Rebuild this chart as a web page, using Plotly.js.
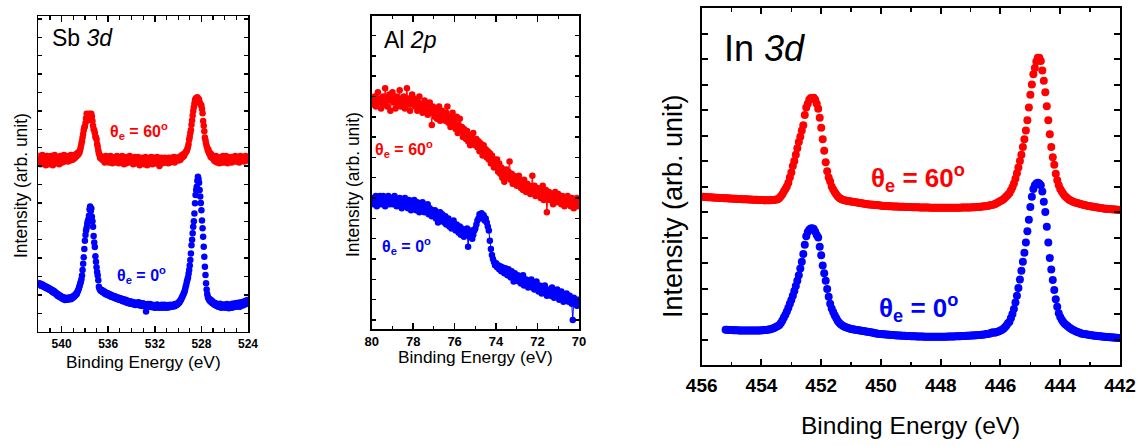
<!DOCTYPE html>
<html><head><meta charset="utf-8">
<script src="https://cdn.plot.ly/plotly-3.0.1.min.js"></script>
<style>html,body{margin:0;padding:0;background:#fff}#chart{width:1143px;height:445px}</style>
</head><body><div id="chart"></div>
<script>
// ---------- Sb 3d (binding energy grid 542.00 -> 524.00, step 0.05 eV) ----------
const sbStart = 542.0, sbStep = 0.05;
const sbTheta0 = [
2.65,2.58,2.62,2.55,2.60,2.50,2.57,2.48,2.55,2.45,
2.50,2.42,2.47,2.38,2.44,2.35,2.40,2.32,2.37,2.28,
2.33,2.25,2.30,2.20,2.26,2.15,2.22,2.12,2.18,2.08,
2.12,2.02,2.08,1.96,2.03,1.92,1.98,1.88,1.95,1.85,
1.90,1.80,1.88,1.76,1.85,1.78,1.72,1.84,1.76,1.80,
1.74,1.83,1.77,1.86,1.79,1.84,1.76,1.88,1.82,1.90,
1.86,1.95,1.92,2.00,1.98,2.08,2.05,2.15,2.22,2.30,
2.40,2.50,2.62,2.72,2.85,3.05,3.35,3.70,4.05,4.50,
4.95,5.25,5.50,5.65,5.85,6.00,6.10,6.30,6.65,6.80,
6.55,6.70,6.25,6.00,5.70,5.20,4.85,4.60,4.10,3.80,
3.50,3.25,3.05,2.80,2.45,2.35,2.30,2.22,2.28,2.18,
2.25,2.15,2.20,2.10,2.17,2.05,2.12,2.02,2.10,2.00,
2.07,1.97,2.04,1.94,2.02,1.90,1.98,1.88,1.96,1.86,
1.93,1.84,1.92,1.80,1.88,1.78,1.86,1.76,1.84,1.74,
1.82,1.72,1.80,1.70,1.78,1.66,1.76,1.68,1.64,1.74,
1.62,1.72,1.58,1.68,1.60,1.55,1.66,1.58,1.52,1.64,
1.56,1.62,1.50,1.60,1.48,1.57,1.53,1.45,1.58,1.50,
1.55,1.46,1.60,1.48,1.42,1.56,1.45,1.52,1.40,1.55,
1.45,1.52,1.40,1.48,1.38,1.10,1.46,1.40,1.50,1.36,
1.44,1.35,1.50,1.40,1.34,1.46,1.38,1.43,1.32,1.45,
1.38,1.30,1.44,1.36,1.48,1.33,1.40,1.30,1.44,1.35,
1.42,1.32,1.46,1.36,1.30,1.43,1.35,1.47,1.33,1.40,
1.30,1.42,1.36,1.45,1.32,1.40,1.35,1.46,1.38,1.42,
1.36,1.45,1.40,1.48,1.38,1.50,1.42,1.46,1.52,1.48,
1.55,1.60,1.58,1.65,1.70,1.75,1.82,1.88,1.95,2.02,
2.10,2.17,2.30,2.45,2.55,2.72,2.82,2.95,3.15,3.35,
3.60,3.90,4.25,4.70,5.00,5.35,5.70,6.00,6.43,6.98,
7.43,7.70,7.88,8.20,8.42,8.30,8.10,7.70,7.35,7.00,
6.60,6.05,5.62,5.16,4.62,4.08,3.53,3.08,2.63,2.30,
2.05,1.90,1.82,1.74,1.78,1.66,1.72,1.60,1.68,1.55,
1.62,1.50,1.58,1.45,1.55,1.42,1.52,1.40,1.48,1.36,
1.46,1.34,1.52,1.40,1.30,1.45,1.36,1.48,1.32,1.42,
1.35,1.46,1.30,1.42,1.50,1.34,1.44,1.28,1.40,1.48,
1.36,1.45,1.30,1.52,1.40,1.33,1.47,1.38,1.55,1.42,
1.50,1.36,1.46,1.58,1.40,1.52,1.35,1.48,1.60,1.45,
1.55,1.42,1.62,1.50,1.66,1.48,1.58,1.70,1.52,1.64,
1.72];
const sbTheta60 = [
9.30,9.55,9.20,9.45,9.10,9.40,9.25,9.60,9.15,9.35,
9.50,9.20,9.40,9.05,9.35,9.55,9.15,9.30,9.45,9.10,
9.40,9.25,9.55,9.20,9.35,9.05,9.45,9.30,9.60,9.25,
9.15,9.40,9.30,9.50,9.20,9.45,9.10,9.35,9.55,9.25,
9.40,9.20,9.50,9.30,9.60,9.25,9.45,9.35,9.55,9.30,
9.45,9.25,9.55,9.35,9.50,9.30,9.60,9.40,9.50,9.35,
9.55,9.40,9.60,9.45,9.50,9.65,9.55,9.70,9.60,9.75,
9.70,9.80,9.90,10.05,10.20,10.35,10.55,10.75,10.95,11.10,
11.15,11.35,11.60,11.85,11.70,11.50,11.80,11.65,11.85,11.75,
11.60,11.85,11.70,11.45,11.20,11.00,10.95,10.80,10.60,10.55,
10.45,10.20,10.05,9.85,9.70,9.60,9.45,9.55,9.40,9.50,
9.35,9.50,9.30,9.45,9.20,9.40,9.55,9.25,9.45,9.30,
9.50,9.20,9.40,9.30,9.55,9.25,9.45,9.15,9.40,9.30,
9.45,9.20,9.50,9.35,9.25,9.55,9.30,9.40,9.15,9.45,
9.30,9.50,9.20,9.40,9.55,9.25,9.35,9.10,9.45,9.30,
9.40,9.15,9.50,9.30,9.20,9.45,9.35,9.55,9.25,9.40,
9.20,9.45,9.30,9.10,9.40,9.25,9.50,9.35,9.15,9.40,
9.30,9.50,9.20,9.40,9.05,9.35,9.25,9.45,9.15,9.35,
9.25,9.40,9.10,9.35,9.50,9.20,9.30,9.05,9.40,9.25,
9.35,9.15,9.45,9.25,9.50,9.30,9.10,9.40,9.20,9.45,
9.30,9.15,9.40,9.25,9.50,9.20,9.35,9.10,9.00,9.30,
9.20,9.45,9.30,9.15,9.40,9.25,9.35,9.45,9.20,9.30,
9.40,9.25,9.35,9.15,9.45,9.30,9.20,9.40,9.30,9.45,
9.25,9.40,9.30,9.50,9.20,9.35,9.45,9.30,9.40,9.35,
9.45,9.30,9.50,9.40,9.35,9.55,9.45,9.60,9.50,9.65,
9.55,9.65,9.70,9.75,9.80,9.85,9.95,10.05,10.20,10.45,
10.60,10.80,10.96,11.25,11.50,11.75,12.00,12.20,12.40,12.58,
12.65,12.70,12.60,12.75,12.68,12.55,12.62,12.45,12.40,12.32,
12.30,12.10,11.87,11.45,11.20,10.90,10.55,10.40,10.25,10.10,
10.00,9.85,9.90,9.70,9.75,9.60,9.50,9.65,9.45,9.55,
9.40,9.50,9.30,9.45,9.25,9.55,9.35,9.20,9.40,9.30,
9.45,9.15,9.35,9.25,9.50,9.20,9.40,9.55,9.30,9.20,
9.40,9.30,9.55,9.25,9.45,9.15,9.35,9.50,9.25,9.40,
9.30,9.45,9.20,9.50,9.35,9.25,9.45,9.30,9.55,9.35,
9.25,9.40,9.50,9.30,9.45,9.20,9.40,9.55,9.35,9.45,
9.30,9.50,9.40,9.25,9.45,9.35,9.55,9.40,9.30,9.45,
9.40];

// ---------- Al 2p (grid 80.00 -> 70.00, step 0.05 eV) ----------
const alStart = 80.0, alStep = 0.05;
const alTheta60 = [
10.6,10.9,10.7,11.0,10.5,10.8,11.2,10.7,10.9,10.4,
10.8,11.0,10.6,11.4,10.9,10.5,10.8,11.1,10.3,10.9,
11.2,10.7,10.9,10.4,11.0,10.6,10.8,11.3,10.5,10.9,
10.7,11.0,10.4,10.8,11.4,10.6,10.9,10.3,10.7,11.1,
10.6,10.9,10.5,10.8,10.3,10.7,11.0,10.4,10.6,10.2,
10.5,10.8,10.3,10.6,10.1,10.4,10.7,10.2,9.6,10.5,
10.3,10.0,10.4,9.9,10.2,10.5,9.8,10.1,10.3,9.9,
10.1,9.8,10.2,10.5,9.7,10.0,9.5,9.9,10.2,9.6,
9.8,9.4,10.0,9.2,9.6,9.9,9.3,9.5,9.0,9.4,
9.2,8.9,9.3,8.8,9.1,8.6,9.0,8.7,9.2,8.8,
8.6,8.9,8.5,8.8,8.3,8.7,8.4,8.1,8.6,8.3,
8.4,8.0,8.3,7.9,8.2,7.7,8.1,7.8,7.5,7.9,
7.6,7.9,7.3,7.7,7.2,7.5,7.0,7.4,6.8,7.2,
7.4,7.0,7.3,7.8,6.9,7.2,6.7,7.1,6.8,7.0,
6.6,6.9,7.1,6.7,6.5,6.8,6.4,6.9,6.6,6.3,
6.7,6.4,6.6,6.2,6.5,7.1,6.3,6.6,6.1,6.4,
6.5,6.2,6.4,6.0,6.3,6.6,5.9,6.2,6.4,5.3,
6.1,6.3,5.9,6.2,6.0,5.7,6.1,6.3,5.8,6.0,
6.2,5.8,6.0,5.7,6.1,5.9,5.6,6.0,5.8,6.1,
5.7,5.9,5.6,6.0,5.8,5.5,5.9,5.7,6.0,5.6,
5.8];
const alTheta0 = [
5.8,6.0,5.7,5.9,6.1,5.6,5.9,5.8,6.1,5.7,
5.9,6.1,5.8,5.6,6.0,5.8,6.1,5.7,5.9,6.0,
5.7,5.9,6.1,5.8,5.6,5.9,5.7,6.0,5.8,5.5,
5.9,5.7,6.0,5.6,5.8,5.5,5.9,5.7,5.4,5.8,
5.6,5.9,5.7,5.4,5.8,5.6,5.3,5.7,5.5,5.8,
5.5,5.3,5.6,5.4,5.7,5.2,5.5,5.3,5.1,5.4,
5.2,5.4,5.0,5.3,4.8,5.1,5.3,4.9,5.2,5.0,
4.8,5.1,4.7,4.9,5.0,4.6,4.8,4.5,4.7,4.9,
4.6,4.4,4.7,4.5,4.3,4.6,4.2,4.5,4.4,4.1,
4.4,4.2,4.5,3.6,4.3,4.1,4.4,4.0,4.2,4.4,
4.5,4.7,4.9,5.0,5.2,5.1,5.25,5.0,5.15,4.9,
5.0,4.8,4.6,4.4,3.9,3.5,3.2,3.0,2.85,2.7,
2.8,2.6,2.7,2.5,2.65,2.4,2.6,2.5,2.3,2.55,
2.4,2.2,2.5,2.3,2.1,2.4,2.2,1.9,2.3,2.1,
2.0,2.2,1.9,2.1,1.8,2.0,2.2,1.7,1.9,2.0,
1.8,1.6,1.9,1.7,2.0,1.6,1.8,1.5,1.7,1.9,
1.6,1.4,1.7,1.5,1.3,1.6,1.5,1.7,1.4,1.2,
1.5,1.3,1.4,1.2,1.6,1.3,1.1,1.4,1.2,1.5,
1.3,1.0,1.2,1.4,1.1,0.9,1.2,1.0,1.3,1.1,
0.9,1.2,1.0,0.8,0.0,1.1,0.9,1.0,0.7,1.0,
0.8];

// ---------- In 3d (step 0.05 eV; theta 60 from 456.00, theta 0 from 455.20, both to 442.00) ----------
const inStep = 0.05, in60Start = 456.0, in0Start = 455.2;
const inTheta60 = [
6.60,6.60,6.59,6.59,6.58,6.58,6.58,6.57,6.57,6.56,
6.56,6.56,6.55,6.55,6.55,6.54,6.54,6.54,6.53,6.53,
6.53,6.52,6.52,6.52,6.51,6.51,6.51,6.50,6.50,6.50,
6.50,6.49,6.49,6.49,6.48,6.48,6.48,6.48,6.47,6.47,
6.47,6.47,6.46,6.46,6.46,6.46,6.46,6.47,6.47,6.48,
6.49,6.50,6.55,6.62,6.70,6.80,6.90,7.00,7.15,7.35,
7.55,7.80,8.00,8.25,8.50,8.75,8.95,9.20,9.40,9.80,
10.10,10.25,10.40,10.47,10.45,10.48,10.40,10.25,10.05,9.70,
9.30,8.85,8.40,7.95,7.60,7.35,7.20,7.00,6.88,6.78,
6.70,6.62,6.56,6.52,6.49,6.47,6.45,6.44,6.43,6.42,
6.41,6.40,6.39,6.38,6.37,6.36,6.35,6.34,6.33,6.32,
6.31,6.30,6.29,6.29,6.28,6.28,6.27,6.27,6.26,6.26,
6.25,6.25,6.24,6.24,6.24,6.23,6.23,6.23,6.22,6.22,
6.22,6.22,6.21,6.21,6.21,6.21,6.20,6.20,6.20,6.20,
6.20,6.19,6.19,6.19,6.19,6.19,6.18,6.18,6.18,6.18,
6.18,6.18,6.18,6.17,6.17,6.17,6.17,6.17,6.17,6.17,
6.17,6.17,6.17,6.17,6.17,6.17,6.17,6.17,6.17,6.17,
6.17,6.17,6.17,6.17,6.18,6.18,6.18,6.18,6.18,6.18,
6.18,6.19,6.19,6.19,6.20,6.20,6.21,6.21,6.22,6.23,
6.23,6.24,6.25,6.26,6.27,6.28,6.30,6.33,6.36,6.40,
6.43,6.46,6.50,6.56,6.62,6.68,6.75,6.85,6.97,7.12,
7.30,7.52,7.75,8.00,8.25,8.55,8.85,9.20,9.60,10.10,
10.60,11.00,11.40,11.65,11.90,12.05,12.05,11.92,11.55,11.15,
10.70,10.15,9.60,9.05,8.55,8.15,7.85,7.50,7.25,7.05,
6.90,6.80,6.72,6.64,6.58,6.53,6.48,6.45,6.42,6.39,
6.37,6.35,6.34,6.32,6.30,6.29,6.27,6.26,6.25,6.24,
6.23,6.22,6.21,6.20,6.19,6.18,6.17,6.16,6.15,6.14,
6.13,6.13,6.12,6.12,6.11,6.11,6.10,6.10,6.09,6.09,
6.08];
const inTheta0 = [
1.38,1.38,1.37,1.37,1.37,1.36,1.36,1.36,1.36,1.35,
1.35,1.35,1.35,1.35,1.35,1.35,1.35,1.35,1.35,1.35,
1.35,1.35,1.35,1.35,1.36,1.36,1.37,1.37,1.38,1.39,
1.40,1.42,1.44,1.47,1.50,1.53,1.57,1.65,1.75,1.86,
1.97,2.10,2.25,2.40,2.55,2.72,2.90,3.10,3.30,3.52,
3.78,4.05,4.35,4.72,5.05,5.22,5.30,5.35,5.36,5.33,
5.23,5.10,5.00,4.64,4.30,3.90,3.60,3.30,2.98,2.68,
2.40,2.22,2.08,1.95,1.84,1.74,1.66,1.60,1.56,1.52,
1.49,1.47,1.45,1.43,1.41,1.40,1.39,1.38,1.37,1.36,
1.35,1.34,1.33,1.32,1.31,1.30,1.29,1.28,1.27,1.26,
1.25,1.24,1.23,1.22,1.22,1.21,1.21,1.20,1.20,1.19,
1.19,1.18,1.18,1.17,1.17,1.16,1.16,1.16,1.15,1.15,
1.15,1.14,1.14,1.14,1.13,1.13,1.13,1.13,1.12,1.12,
1.12,1.12,1.12,1.11,1.11,1.11,1.11,1.11,1.11,1.11,
1.11,1.11,1.11,1.11,1.11,1.11,1.11,1.11,1.11,1.12,
1.12,1.12,1.12,1.12,1.13,1.13,1.13,1.13,1.14,1.14,
1.14,1.15,1.15,1.15,1.16,1.16,1.16,1.17,1.17,1.18,
1.18,1.19,1.19,1.20,1.21,1.22,1.23,1.24,1.26,1.28,
1.26,1.28,1.30,1.32,1.35,1.38,1.42,1.48,1.55,1.64,
1.70,1.84,2.00,2.20,2.45,2.72,3.02,3.35,3.70,4.05,
4.40,4.80,5.25,5.70,6.20,6.60,6.90,7.05,7.12,7.15,
7.12,7.05,6.80,6.40,6.00,5.42,4.80,4.20,3.75,3.33,
2.94,2.58,2.28,2.03,1.88,1.77,1.69,1.62,1.57,1.52,
1.47,1.43,1.39,1.36,1.33,1.30,1.28,1.26,1.24,1.23,
1.22,1.21,1.20,1.19,1.18,1.17,1.16,1.15,1.15,1.14,
1.13,1.13,1.12,1.11,1.11,1.10,1.10,1.09,1.09,1.08,
1.08,1.07,1.07,1.06,1.06];

// ---------- text ----------
const panelNames = ['Sb <i>3d</i>', 'Al <i>2p</i>', 'In <i>3d</i>'];
const xTitle = 'Binding Energy (eV)';
const yTitle = 'Intensity (arb. unit)';
const label60 = '<b>θ<sub>e</sub> = 60<sup>o</sup></b>';
const label0 = '<b>θ<sub>e</sub> = 0<sup>o</sup></b>';

const RED = '#ff0000', BLUE = '#0000ff';
function energyGrid(start, step, n) {
  const out = [];
  for (let i = 0; i < n; i++) out.push(Math.round((start - i * step) * 1000) / 1000);
  return out;
}
function pts(xa, ya, vals, start, step, color, size, withLine) {
  return {
    type: 'scatter', mode: withLine ? 'lines+markers' : 'markers',
    x: energyGrid(start, step, vals.length), y: vals, xaxis: xa, yaxis: ya,
    marker: {color: color, size: size, line: {width: 0}},
    line: {color: color, width: 1}, hoverinfo: 'skip'
  };
}
const traces = [
  pts('x', 'y', sbTheta60, sbStart, sbStep, RED, 6.5, false),
  pts('x', 'y', sbTheta0, sbStart, sbStep, BLUE, 6.5, false),
  pts('x2', 'y2', alTheta60, alStart, alStep, RED, 6.5, true),
  pts('x2', 'y2', alTheta0, alStart, alStep, BLUE, 6.5, true),
  pts('x3', 'y3', inTheta60, in60Start, inStep, RED, 8, false),
  pts('x3', 'y3', inTheta0, in0Start, inStep, BLUE, 8, false)
];

const W = 1143, H = 445;
const SANS = 'Liberation Sans, Arial, sans-serif';
const domX = (a, b) => [a / W, b / W];
const domY = (top, bottom) => [1 - bottom / H, 1 - top / H];

function xAxis(dom, range, dtick, t0, fontSize, lw, anchor, standoff) {
  return {
    domain: dom, range: range, anchor: anchor, tick0: t0, dtick: dtick,
    showline: true, linecolor: '#000', linewidth: lw, mirror: 'ticks',
    ticks: 'inside', ticklen: 6, tickwidth: lw, tickcolor: '#000',
    showgrid: false, zeroline: false, ticklabelstandoff: standoff,
    tickprefix: '<b>', ticksuffix: '</b>',
    tickfont: {family: SANS, size: fontSize, weight: 700, color: '#000'},
    minor: {dtick: 1, tick0: t0, ticks: 'inside', ticklen: 3.5, tickwidth: lw * 0.8, tickcolor: '#000', showgrid: false}
  };
}
function yAxis(dom, range, lw, anchor, tlen) {
  return {
    domain: dom, range: range, anchor: anchor, tick0: 0, dtick: 1,
    showline: true, linecolor: '#000', linewidth: lw, mirror: 'ticks',
    ticks: 'inside', ticklen: tlen, tickwidth: lw, tickcolor: '#000',
    showticklabels: false, showgrid: false, zeroline: false
  };
}

function ann(text, x, y, size, opts) {
  return Object.assign({
    text: text, xref: 'paper', yref: 'paper', x: x / W, y: 1 - y / H,
    xanchor: 'center', yanchor: 'middle', showarrow: false,
    font: {family: SANS, size: size, color: '#000'}
  }, opts || {});
}
const colFont = (c, s) => ({family: SANS, size: s, color: c, weight: 700});

const layout = {
  width: W, height: H, margin: {l: 0, r: 0, t: 0, b: 0},
  paper_bgcolor: '#fff', plot_bgcolor: '#fff', showlegend: false,
  xaxis: xAxis(domX(38.3, 248), [542, 524], 4, 524, 12, 1.5, 'y', 0),
  yaxis: yAxis(domY(16, 331.7), [0, 17.16], 1.5, 'x', 4),
  xaxis2: xAxis(domX(371.7, 579), [80, 70], 2, 70, 13, 1.5, 'y2', 0),
  yaxis2: yAxis(domY(15.5, 329), [-0.44, 14.98], 1.5, 'x2', 4),
  xaxis3: xAxis(domX(701.7, 1120), [456, 442], 2, 442, 19, 2, 'y3', 2),
  yaxis3: yAxis(domY(8, 365), [0, 14], 2, 'x3', 6),
  annotations: [
    ann(panelNames[0], 50, 38.5, 23, {xanchor: 'left'}),
    ann(panelNames[1], 381.7, 40, 23, {xanchor: 'left'}),
    ann(panelNames[2], 721.7, 49, 36, {xanchor: 'left'}),
    ann(xTitle, 143.2, 362, 17.3),
    ann(xTitle, 475.4, 357, 17.3),
    ann(xTitle, 910.9, 425, 24.5),
    ann(yTitle, 20.5, 185.5, 17.5, {textangle: -90}),
    ann(yTitle, 352.5, 184.5, 17.5, {textangle: -90}),
    ann(yTitle, 673, 206, 27, {textangle: -90}),
    ann(label60, 139, 131, 16, {font: colFont(RED, 16)}),
    ann(label0, 141, 275, 16, {font: colFont(BLUE, 16)}),
    ann(label60, 404, 149, 16, {font: colFont(RED, 16)}),
    ann(label0, 406.5, 246, 16, {font: colFont(BLUE, 16)}),
    ann(label60, 918, 178, 26, {font: colFont(RED, 26)}),
    ann(label0, 918, 308, 26, {font: colFont(BLUE, 26)})
  ]
};
Plotly.newPlot('chart', traces, layout, {staticPlot: true, displayModeBar: false});
</script>
</body></html>
